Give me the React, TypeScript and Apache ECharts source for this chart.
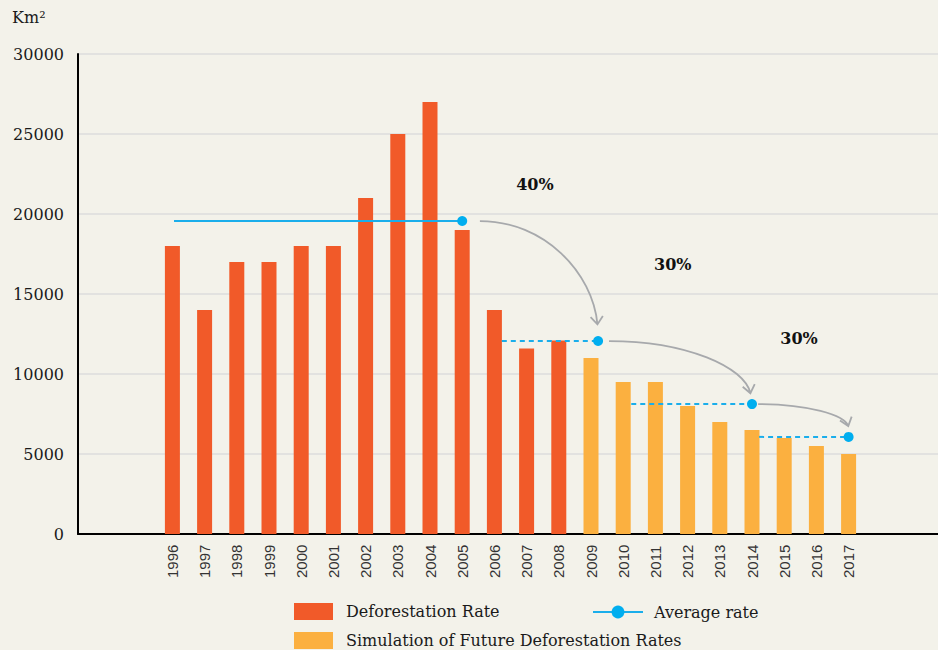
import React, { useEffect, useRef } from "react";
import * as echarts from "echarts";

// ---- data ----
const years = [
  "1996", "1997", "1998", "1999", "2000", "2001", "2002", "2003", "2004", "2005", "2006",
  "2007", "2008", "2009", "2010", "2011", "2012", "2013", "2014", "2015", "2016", "2017",
];
// 1996 - 2008
const deforestationRate = [18000, 14000, 17000, 17000, 18000, 18000, 21000, 25000, 27000, 19000, 14000, 11600, 12100];
// 2009 - 2017
const simulatedRate = [11000, 9500, 9500, 8000, 7000, 6500, 6000, 5500, 5000];

// average rate segments (positions in category-index units)
const averageRate = [19560, 12060, 8120, 6070];
const averageFrom = [0.05, 10.23, 14.25, 18.22];
const averageTo = [9, 13.22, 18, 21];
const averageDashed = [false, true, true, true];

// reduction arrows and labels
const arrowFrom = [[9.55, 19560], [13.56, 12060], [18.19, 8120]];
const arrowTo = [[13.2, 13100], [17.95, 8800], [20.99, 6750]];
const changeLabels = ["40%", "30%", "30%"];
const changeLabelPos = [[11.26, 21875], [15.54, 16875], [19.46, 12250]];

const yTicks = { min: 0, max: 30000, interval: 5000 };

const RED = "#f15a29";
const ORANGE = "#fbb040";
const BLUE = "#1aaeeb";
const GRAY = "#a7a9ac";
const SERIF = "'DejaVu Serif', 'Liberation Serif', serif";
const SANS = "'Liberation Sans', Arial, sans-serif";

export default function App() {
  const ref = useRef<HTMLDivElement>(null);
  useEffect(() => {
    if (!ref.current) return;
    const chart = echarts.init(ref.current, undefined, { renderer: "svg" });
    const n = years.length;
    const redData = years.map((_, i) => (i < deforestationRate.length ? deforestationRate[i] : "-"));
    const orangeData = years.map((_, i) =>
      i >= deforestationRate.length ? simulatedRate[i - deforestationRate.length] : "-"
    );

    const avgSeries = averageRate.map((v, k) => ({
      type: "line",
      name: "Average rate",
      xAxisIndex: 2,
      yAxisIndex: 1,
      data: [
        { value: [averageFrom[k], v], symbol: "none" },
        { value: [averageTo[k], v], symbol: "circle" },
      ],
      symbol: "circle",
      symbolSize: 10,
      showSymbol: true,
      itemStyle: { color: "#00aeef" },
      lineStyle: { color: BLUE, width: 2, type: averageDashed[k] ? [5, 4] : "solid" },
      z: 5,
    }));

    const arrowData = arrowFrom.map((f, k) => [
      f[0], f[1], arrowTo[k][0], arrowTo[k][1], changeLabelPos[k][0], changeLabelPos[k][1],
    ]);

    const option: any = {
      animation: false,
      backgroundColor: "#f3f2ea",
      grid: [
        { left: 78, right: 0, top: 54, bottom: 116 },
        { left: 156.3, width: 32.2 * n, top: 54, bottom: 116 },
      ],
      xAxis: [
        {
          gridIndex: 0,
          type: "value",
          min: 0,
          max: 1,
          axisLine: { show: true, lineStyle: { color: "#000", width: 2 } },
          axisTick: { show: false },
          axisLabel: { show: false },
          splitLine: { show: false },
        },
        {
          gridIndex: 1,
          type: "category",
          data: years,
          axisLine: { show: false },
          axisTick: { show: false },
          axisLabel: {
            rotate: 90,
            align: "left",
            margin: 44,
            fontFamily: SANS,
            fontSize: 15,
            color: "#333",
            interval: 0,
          },
        },
        {
          gridIndex: 1,
          type: "value",
          min: -0.5,
          max: n - 0.5,
          show: false,
        },
      ],
      yAxis: [
        {
          gridIndex: 0,
          type: "value",
          ...yTicks,
          axisLine: { show: true, lineStyle: { color: "#000", width: 2 } },
          axisTick: { show: false },
          axisLabel: {
            fontFamily: SERIF,
            fontSize: 16,
            color: "#1a1a1a",
            margin: 14,
            formatter: (v: number) => String(v),
          },
          splitLine: { show: true, lineStyle: { color: "#dcdcdc", width: 1.5 } },
        },
        {
          gridIndex: 1,
          type: "value",
          ...yTicks,
          show: false,
          splitLine: { show: false },
        },
      ],
      legend: [
        {
          data: [{ name: "Deforestation Rate", icon: "rect" }],
          left: 294,
          top: 603,
          itemWidth: 39,
          itemHeight: 17,
          padding: 0,
          textStyle: { fontFamily: SERIF, fontSize: 16, color: "#1a1a1a", padding: [0, 0, 0, 8] },
        },
        {
          data: ["Average rate"],
          left: 592,
          top: 604,
          itemWidth: 50,
          itemHeight: 16,
          padding: 0,
          textStyle: { fontFamily: SERIF, fontSize: 16, color: "#1a1a1a", padding: [0, 0, 0, 6] },
        },
        {
          data: [{ name: "Simulation of Future Deforestation Rates", icon: "rect" }],
          left: 294,
          top: 632,
          itemWidth: 39,
          itemHeight: 17,
          padding: 0,
          textStyle: { fontFamily: SERIF, fontSize: 16, color: "#1a1a1a", padding: [0, 0, 0, 8] },
        },
      ],
      graphic: [
        {
          type: "text",
          left: 12,
          top: 9,
          style: { text: "Km²", font: `16px ${SERIF}`, fill: "#1a1a1a" },
        },
      ],
      series: [
        {
          type: "bar",
          name: "Deforestation Rate",
          xAxisIndex: 1,
          yAxisIndex: 1,
          stack: "rate",
          barWidth: 15,
          data: redData,
          itemStyle: { color: RED },
        },
        {
          type: "bar",
          name: "Simulation of Future Deforestation Rates",
          xAxisIndex: 1,
          yAxisIndex: 1,
          stack: "rate",
          barWidth: 15,
          data: orangeData,
          itemStyle: { color: ORANGE },
        },
        ...avgSeries,
        {
          type: "custom",
          name: "arrows",
          xAxisIndex: 2,
          yAxisIndex: 1,
          encode: { x: [0, 2], y: [1, 3] },
          data: arrowData,
          z: 4,
          renderItem: (params: any, api: any) => {
            const idx = params.dataIndex;
            const s = api.coord([api.value(0), api.value(1)]);
            const e = api.coord([api.value(2), api.value(3)]);
            const l = api.coord([api.value(4), api.value(5)]);
            const dx = e[0] - s[0];
            const dy = e[1] - s[1];
            const c1 = [s[0] + 0.55 * dx, s[1]];
            const c2 = [e[0] - 0.04 * dx, e[1] - 0.5 * dy];
            let tx = e[0] - c2[0];
            let ty = e[1] - c2[1];
            const len = Math.sqrt(tx * tx + ty * ty) || 1;
            tx /= len;
            ty /= len;
            const a = (38 * Math.PI) / 180;
            const L = 10;
            const rot = (ang: number) => [
              e[0] - L * (tx * Math.cos(ang) - ty * Math.sin(ang)),
              e[1] - L * (tx * Math.sin(ang) + ty * Math.cos(ang)),
            ];
            const p1 = rot(a);
            const p2 = rot(-a);
            const d =
              `M${s[0]},${s[1]} C${c1[0]},${c1[1]} ${c2[0]},${c2[1]} ${e[0]},${e[1]} ` +
              `M${p1[0]},${p1[1]} L${e[0]},${e[1]} L${p2[0]},${p2[1]}`;
            return {
              type: "group",
              children: [
                {
                  type: "path",
                  shape: { pathData: d },
                  style: { stroke: GRAY, fill: "none", lineWidth: 1.8 },
                },
                {
                  type: "text",
                  x: l[0],
                  y: l[1],
                  style: {
                    text: changeLabels[idx],
                    font: `bold 16px ${SERIF}`,
                    fill: "#111",
                    align: "center",
                    verticalAlign: "middle",
                  },
                },
              ],
            };
          },
        },
      ],
    };
    chart.setOption(option);
    return () => chart.dispose();
  }, []);
  return (
    <div
      ref={ref}
      style={{ position: "fixed", left: 0, top: 0, width: 938, height: 650 }}
    />
  );
}
